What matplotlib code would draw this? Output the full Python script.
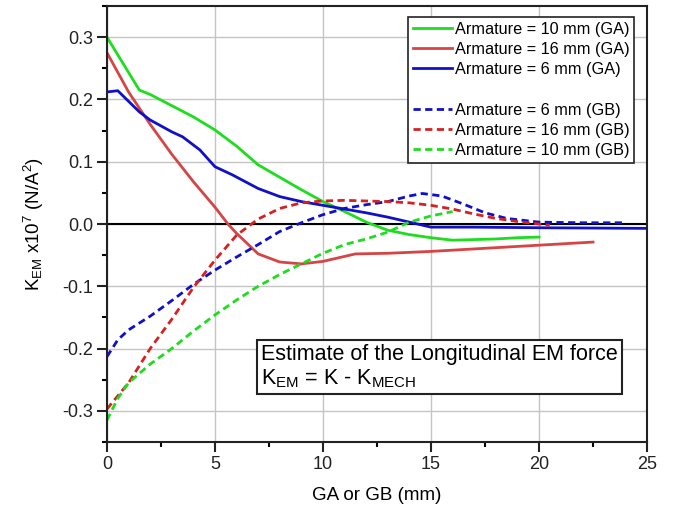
import matplotlib
matplotlib.use("Agg")
import matplotlib.pyplot as plt
from matplotlib.ticker import MultipleLocator
from matplotlib.lines import Line2D

plt.rcParams['font.family'] = ['Liberation Sans', 'DejaVu Sans']
plt.rcParams['mathtext.fontset'] = 'custom'
plt.rcParams['mathtext.rm'] = 'Liberation Sans'
plt.rcParams['mathtext.it'] = 'Liberation Sans'

# GA curves (solid)
ga10_x = [0, 1.5, 2, 3, 4, 5, 6, 7, 8, 9, 10, 11, 12, 13, 14, 15, 16, 17, 18, 19, 20]
ga10_y = [0.300, 0.215, 0.208, 0.190, 0.172, 0.151, 0.125, 0.095, 0.075, 0.055, 0.036,
          0.020, 0.003, -0.010, -0.017, -0.022, -0.026, -0.025, -0.024, -0.022, -0.021]

ga16_x = [0, 1, 2, 3, 4, 5, 5.6, 6, 7, 8, 9, 10, 11.5, 13, 15, 17, 19, 20, 21, 22.5]
ga16_y = [0.275, 0.212, 0.160, 0.112, 0.068, 0.027, 0.0, -0.015, -0.048, -0.061, -0.064,
          -0.060, -0.048, -0.047, -0.044, -0.040, -0.036, -0.034, -0.032, -0.029]

ga6_x = [0, 0.5, 1, 1.5, 2, 3, 3.5, 4.3, 5, 5.8, 7, 8, 9, 10, 11, 12, 13, 14, 15, 17, 20, 25]
ga6_y = [0.212, 0.214, 0.197, 0.180, 0.167, 0.148, 0.140, 0.119, 0.092, 0.079, 0.057, 0.044,
         0.036, 0.030, 0.024, 0.018, 0.011, 0.003, -0.005, -0.005, -0.006, -0.007]

# GB curves (dashed)
gb6_x = [0, 0.5, 1, 2, 3, 4, 5, 6, 7, 8, 9, 10, 11, 12, 13, 14, 14.6, 15.5, 16.5, 17.5,
         18.5, 20, 22, 24]
gb6_y = [-0.213, -0.186, -0.170, -0.148, -0.123, -0.097, -0.074, -0.053, -0.033, -0.012,
         0.002, 0.015, 0.025, 0.031, 0.036, 0.045, 0.049, 0.045, 0.032, 0.018, 0.009,
         0.003, 0.002, 0.002]

gb16_x = [0, 1, 2, 3, 4, 5, 6, 7, 8, 9, 10, 11, 12, 13, 14, 15, 16, 17, 18, 19, 20, 20.5]
gb16_y = [-0.297, -0.255, -0.200, -0.153, -0.102, -0.058, -0.018, 0.008, 0.025, 0.034,
          0.037, 0.038, 0.037, 0.036, 0.034, 0.030, 0.024, 0.016, 0.009, 0.004, 0.0, -0.002]

gb10_x = [0, 0.5, 1, 2, 3, 4, 5, 6, 7, 8, 9, 10, 11, 12, 13, 14, 15, 16]
gb10_y = [-0.315, -0.280, -0.255, -0.225, -0.200, -0.172, -0.146, -0.122, -0.100, -0.081,
          -0.064, -0.047, -0.033, -0.024, -0.013, 0.003, 0.013, 0.020]

GREEN = "#1edc1e"
RED_SOLID = "#d64545"
RED_DASH = "#d42222"
BLUE = "#1010c8"
dash = (0, (2.6, 1.6))

fig = plt.figure(figsize=(6.87, 5.09), dpi=100)
ax = fig.add_axes([0.1557, 0.1316, 0.7861, 0.8566])

ax.axhline(0, color="black", lw=1.5, zorder=2)

l1, = ax.plot(ga10_x, ga10_y, color=GREEN, lw=2, label="Armature = 10 mm (GA)")
l2, = ax.plot(ga16_x, ga16_y, color=RED_SOLID, lw=2, label="Armature = 16 mm (GA)")
l3, = ax.plot(ga6_x, ga6_y, color=BLUE, lw=2, label="Armature = 6 mm (GA)")
l4, = ax.plot(gb6_x, gb6_y, color=BLUE, lw=2, ls=dash, label="Armature = 6 mm (GB)")
l5, = ax.plot(gb16_x, gb16_y, color=RED_DASH, lw=2, ls=dash, label="Armature = 16 mm (GB)")
l6, = ax.plot(gb10_x, gb10_y, color=GREEN, lw=2, ls=dash, label="Armature = 10 mm (GB)")
blank = Line2D([], [], color="none", label=" ")

ax.set_xlim(0, 25)
ax.set_ylim(-0.35, 0.35)
ax.xaxis.set_major_locator(MultipleLocator(5))
ax.xaxis.set_minor_locator(MultipleLocator(2.5))
ax.yaxis.set_minor_locator(MultipleLocator(0.05))
ax.set_yticks([-0.3, -0.2, -0.1, 0.0, 0.1, 0.2, 0.3])
ax.set_yticklabels(["-0.3", "-0.2", "-0.1", "0.0", "0.1", "0.2", "0.3"])
ax.grid(True, which="major", color="#c4c4c4", lw=1)
ax.set_axisbelow(True)
ax.tick_params(which="major", direction="out", length=7, width=1.5, labelsize=13,
               colors="#222222", pad=3)
ax.tick_params(which="minor", direction="out", length=3.5, width=1.5)
for s in ax.spines.values():
    s.set_linewidth(1.5)
    s.set_color("#222222")

ax.set_xlabel("GA or GB (mm)", fontsize=13.5, labelpad=10)
ax.set_ylabel("K$_{\\mathrm{EM}}$ x10$^7$ (N/A$^2$)", fontsize=13.5, labelpad=12)

leg = ax.legend(handles=[l1, l2, l3, blank, l4, l5, l6], loc="upper right",
                bbox_to_anchor=(0.976, 0.975), fontsize=11.7, handlelength=2.4,
                handletextpad=0.15, labelspacing=0.32, borderpad=0.3,
                fancybox=False, framealpha=1, edgecolor="#222222", borderaxespad=0)
leg.get_frame().set_linewidth(1.2)

ax.text(0.285, 0.12, "Estimate of the Longitudinal EM force\nK$_{\\mathrm{EM}}$ = K - K$_{\\mathrm{MECH}}$",
        transform=ax.transAxes, fontsize=15.5, ha="left", va="bottom", linespacing=1.15,
        bbox=dict(boxstyle="square,pad=0.2", fc="white", ec="#222222", lw=1.5))

fig.savefig("out.png", dpi=100)
